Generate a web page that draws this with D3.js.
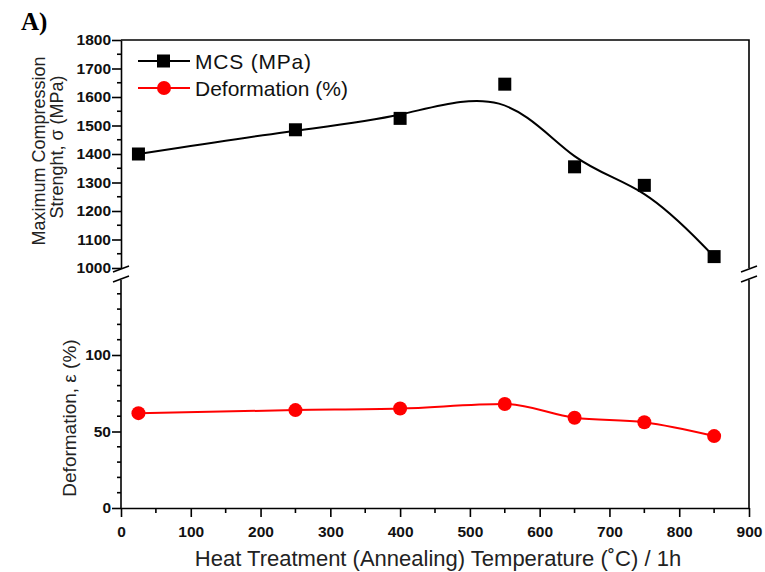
<!DOCTYPE html>
<html>
<head>
<meta charset="utf-8">
<style>
  body { margin: 0; background: #fff; }
  .axis path, .axis line { stroke: #000; stroke-width: 1.6px; fill: none; }
</style>
</head>
<body>
<div id="chart"></div>
<script src="https://cdnjs.cloudflare.com/ajax/libs/d3/7.8.5/d3.min.js"></script>
<script>
  // data
  var temps = [25, 250, 400, 550, 650, 750, 850];
  var mcs = [1400, 1485, 1525, 1645, 1355, 1290, 1040];
  var deform = [62, 64, 65, 68, 59, 56, 47];

  var xTicks = [0, 100, 200, 300, 400, 500, 600, 700, 800, 900];
  var mcsTicks = [1000, 1100, 1200, 1300, 1400, 1500, 1600, 1700, 1800];
  var defTicks = [0, 50, 100];

  var width = 765, height = 572;
  var pLeft = 121, pRight = 749, pTop = 40, pBottom = 508;
  var breakTop = 268, breakBot = 280;
  var sans = "Arial, 'Liberation Sans', sans-serif";

  var svg = d3.select("#chart").append("svg")
    .attr("width", width)
    .attr("height", height)
    .style("font-family", sans);

  var x = d3.scaleLinear().domain([0, 900]).range([pLeft, pRight]);
  var yTop = d3.scaleLinear().domain([1000, 1800]).range([breakTop, pTop]);
  var yBot = d3.scaleLinear().domain([0, 150]).range([pBottom, pBottom - 150 * 1.53]);

  function styleTicks(g) {
    g.attr("font-family", sans);
    g.selectAll(".tick text")
      .attr("font-size", 15.5)
      .attr("font-weight", "bold")
      .attr("fill", "#111");
  }

  // x axis
  var gx = svg.append("g").attr("class", "axis")
    .attr("transform", "translate(0," + pBottom + ")");
  gx.call(d3.axisBottom(x).tickValues(xTicks).tickFormat(d3.format("d"))
    .tickSize(9).tickSizeOuter(0).tickPadding(9));
  styleTicks(gx);
  gx.append("g").selectAll("line").data(d3.range(50, 900, 100)).join("line")
    .attr("x1", d => x(d)).attr("x2", d => x(d)).attr("y1", 0).attr("y2", 5)
    .attr("stroke", "#000").attr("stroke-width", 1.6);

  // upper y axis
  var gTop = svg.append("g").attr("class", "axis")
    .attr("transform", "translate(" + pLeft + ",0)");
  gTop.call(d3.axisLeft(yTop).tickValues(mcsTicks).tickFormat(d3.format("d"))
    .tickSize(9).tickSizeOuter(0).tickPadding(1));
  styleTicks(gTop);
  gTop.append("g").selectAll("line").data(d3.range(1050, 1800, 100)).join("line")
    .attr("x1", -4).attr("x2", 0).attr("y1", d => yTop(d)).attr("y2", d => yTop(d))
    .attr("stroke", "#000").attr("stroke-width", 1.6);

  // lower y axis
  var gBot = svg.append("g").attr("class", "axis")
    .attr("transform", "translate(" + pLeft + ",0)");
  gBot.call(d3.axisLeft(yBot).tickValues(defTicks).tickFormat(d3.format("d"))
    .tickSize(9).tickSizeOuter(0).tickPadding(1));
  styleTicks(gBot);
  gBot.select(".domain").attr("d", "M0," + pBottom + "V" + breakBot);
  gBot.append("g").selectAll("line").data(d3.range(10, 150, 10).filter(d => d % 50 != 0)).join("line")
    .attr("x1", -4).attr("x2", 0).attr("y1", d => yBot(d)).attr("y2", d => yBot(d))
    .attr("stroke", "#000").attr("stroke-width", 1.6);

  // top and right frame
  svg.append("path")
    .attr("d", "M" + pLeft + "," + pTop + "H" + pRight + "V" + breakTop)
    .attr("fill", "none").attr("stroke", "#000").attr("stroke-width", 1.6);
  svg.append("path")
    .attr("d", "M" + pRight + "," + breakBot + "V" + pBottom)
    .attr("fill", "none").attr("stroke", "#000").attr("stroke-width", 1.6);

  // break marks
  [pLeft, pRight].forEach(function (bx) {
    [breakTop + 1, breakBot - 1].forEach(function (by) {
      svg.append("line")
        .attr("x1", bx - 8).attr("y1", by + 3)
        .attr("x2", bx + 8).attr("y2", by - 3)
        .attr("stroke", "#000").attr("stroke-width", 1.6);
    });
  });

  // MCS series
  var mcsData = temps.map((t, i) => [t, mcs[i]]);
  svg.append("path")
    .datum(mcsData)
    .attr("fill", "none").attr("stroke", "#000").attr("stroke-width", 2)
    .attr("d", d3.line().x(d => x(d[0])).y(d => yTop(d[1])).curve(d3.curveBasis));
  svg.append("g").selectAll("rect").data(mcsData).join("rect")
    .attr("x", d => x(d[0]) - 6.5).attr("y", d => yTop(d[1]) - 6.5)
    .attr("width", 13).attr("height", 13).attr("fill", "#000");

  // deformation series
  var defData = temps.map((t, i) => [t, deform[i]]);
  svg.append("path")
    .datum(defData)
    .attr("fill", "none").attr("stroke", "#ff0000").attr("stroke-width", 2)
    .attr("d", d3.line().x(d => x(d[0])).y(d => yBot(d[1])).curve(d3.curveMonotoneX));
  svg.append("g").selectAll("circle").data(defData).join("circle")
    .attr("cx", d => x(d[0])).attr("cy", d => yBot(d[1])).attr("r", 7)
    .attr("fill", "#ff0000");

  // legend
  var legend = svg.append("g").attr("transform", "translate(138,61)");
  legend.append("line").attr("x1", 0).attr("x2", 52).attr("y1", 0).attr("y2", 0)
    .attr("stroke", "#000").attr("stroke-width", 2);
  legend.append("rect").attr("x", 19).attr("y", -6.5).attr("width", 13).attr("height", 13).attr("fill", "#000");
  legend.append("text").attr("x", 57).attr("y", 7.5).attr("font-size", 21).attr("fill", "#111")
    .attr("letter-spacing", 0.8).text("MCS (MPa)");
  legend.append("line").attr("x1", 0).attr("x2", 52).attr("y1", 27).attr("y2", 27)
    .attr("stroke", "#ff0000").attr("stroke-width", 2);
  legend.append("circle").attr("cx", 26).attr("cy", 27).attr("r", 7).attr("fill", "#ff0000");
  legend.append("text").attr("x", 57).attr("y", 34.5).attr("font-size", 21).attr("fill", "#111")
    .text("Deformation (%)");

  // axis titles
  svg.append("text")
    .attr("transform", "translate(45,151) rotate(-90)")
    .attr("text-anchor", "middle").attr("font-size", 18).attr("fill", "#222")
    .text("Maximum Compression");
  svg.append("text")
    .attr("transform", "translate(63,147) rotate(-90)")
    .attr("text-anchor", "middle").attr("font-size", 18).attr("fill", "#222")
    .text("Strenght, \u03c3 (MPa)");
  svg.append("text")
    .attr("transform", "translate(76,418) rotate(-90)")
    .attr("text-anchor", "middle").attr("font-size", 19).attr("fill", "#222")
    .text("Deformation, \u03b5 (%)");
  svg.append("text")
    .attr("x", 438).attr("y", 566)
    .attr("text-anchor", "middle").attr("font-size", 22).attr("fill", "#222")
    .text("Heat Treatment (Annealing) Temperature (\u02daC) / 1h");

  // panel label
  svg.append("text")
    .attr("x", 21).attr("y", 30)
    .style("font-family", "'Liberation Serif', 'DejaVu Serif', serif")
    .attr("font-weight", "bold").attr("font-size", 25)
    .text("A)");
</script>
</body>
</html>
